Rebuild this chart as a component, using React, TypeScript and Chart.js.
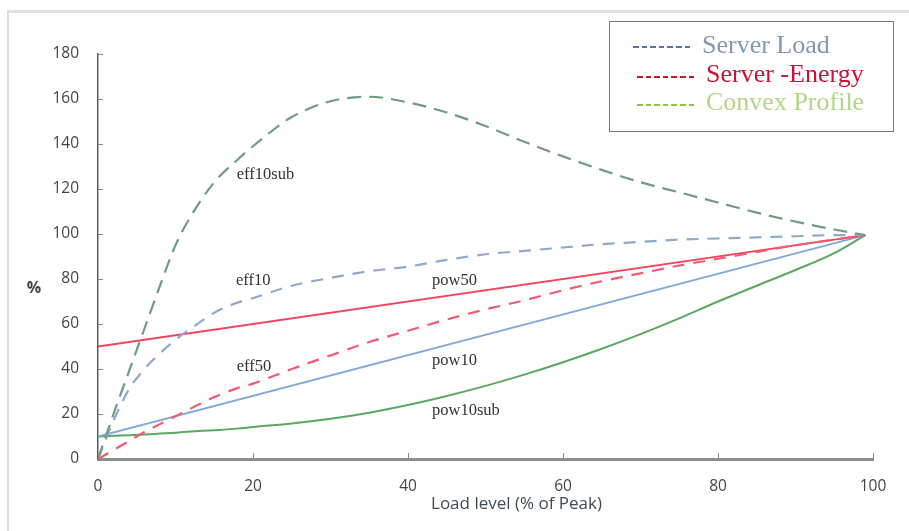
import { useEffect, useRef } from "react";
import { Chart, registerables } from "chart.js";

Chart.register(...registerables);

// ---- data ----
const loadLevels = [0, 2, 4, 6, 8, 10, 12, 15, 18, 20, 25, 30, 35, 40, 45, 50, 55, 60, 65, 70, 75, 80, 85, 90, 95, 99];
const eff10sub = [0, 20, 39, 58, 77, 95, 108, 123, 133, 139, 152, 159, 161, 158.5, 154, 148, 141, 134.5, 128.5, 123, 118.5, 114, 109.5, 105.5, 102, 99.5];
const eff10 = [0, 17, 31, 40, 47, 53, 58, 65, 69.5, 71.5, 77, 80.5, 83.5, 85.5, 88.5, 91, 92.5, 94, 95.5, 96.5, 97.5, 98, 98.5, 99, 99.5, 99.5];
const eff50 = [0, 4, 8, 12, 15.5, 19, 22.5, 27.5, 31.5, 33.5, 40, 46, 52, 57, 62, 66.5, 70.5, 75, 79, 82.5, 86, 89, 92, 95, 97.5, 99.5];
const pow10sub = [10, 10.3, 10.6, 10.9, 11.3, 11.7, 12.2, 12.8, 13.5, 14.2, 15.8, 17.9, 20.6, 24, 28, 32.5, 37.5, 43, 49, 55.5, 62.5, 70, 77, 84, 91.5, 99.5];
const pow10Load = [0, 99];
const pow10 = [10, 99.5];
const pow50Load = [0, 99];
const pow50 = [50, 99.5];

const xTicks = [0, 20, 40, 60, 80, 100];
const yTicks = [0, 20, 40, 60, 80, 100, 120, 140, 160, 180];

const curveLabels = ["eff10sub", "eff10", "pow50", "eff50", "pow10", "pow10sub"];
// label anchor (load level, %) — placement only
const curveLabelAt: [number, number][] = [
  [17.9, 126.3],
  [17.8, 79.3],
  [43.1, 79.3],
  [17.9, 41.2],
  [43.1, 43.9],
  [43.1, 21.7],
];

const legendNames = ["Server Load", "Server -Energy", "Convex Profile"];
const legendTextColors = ["#8397b5", "#cc1035", "#b3d585"];
const legendDashColors = ["#56749f", "#cc1133", "#8cc63f"];

const xTitle = "Load level (% of Peak)";
const yTitle = "%";

const pts = (xs: number[], ys: number[]) => xs.map((x, i) => ({ x, y: ys[i] }));

export default function App() {
  const canvasRef = useRef<HTMLCanvasElement | null>(null);

  useEffect(() => {
    document.body.style.margin = "0";
    const canvas = canvasRef.current;
    if (!canvas) return;

    const overlay = {
      id: "overlay",
      afterDatasetsDraw(chart: any) {
        const { ctx } = chart;
        const x = chart.scales.x;
        const y = chart.scales.y;
        ctx.save();
        ctx.strokeStyle = "#8a8a8a";
        ctx.lineWidth = 1;
        yTicks.forEach((v) => {
          if (v === 0) return;
          const py = Math.round(y.getPixelForValue(v)) + 0.5;
          ctx.beginPath();
          ctx.moveTo(x.left, py);
          ctx.lineTo(x.left + 5, py);
          ctx.stroke();
        });
        xTicks.forEach((v) => {
          if (v === 0) return;
          const px = Math.round(x.getPixelForValue(v)) + 0.5;
          ctx.beginPath();
          ctx.moveTo(px, y.bottom);
          ctx.lineTo(px, y.bottom - 6);
          ctx.stroke();
        });
        ctx.font = '16.5px "Liberation Serif", serif';
        ctx.fillStyle = "#333333";
        ctx.textAlign = "left";
        ctx.textBaseline = "middle";
        curveLabels.forEach((t, i) => {
          const [lx, ly] = curveLabelAt[i];
          ctx.fillText(t, x.getPixelForValue(lx), y.getPixelForValue(ly));
        });
        ctx.font = 'bold 16px "Open Sans", sans-serif';
        ctx.fillStyle = "#444444";
        ctx.textAlign = "center";
        ctx.fillText(yTitle, x.left - 64, y.getPixelForValue(76));
        ctx.font = '17px "Open Sans", sans-serif';
        ctx.fillStyle = "#3f4a55";
        ctx.fillText(xTitle, x.getPixelForValue(54), y.bottom + 45);
        ctx.restore();
      },
    };

    const tickFont = { family: '"Open Sans", sans-serif', size: 15.5 };

    const chart = new Chart(canvas, {
      type: "line",
      data: {
        datasets: [
          {
            label: "eff10sub",
            data: pts(loadLevels, eff10sub),
            borderColor: "#6f9c82",
            borderWidth: 2.2,
            borderDash: [14, 8],
            pointRadius: 0,
            cubicInterpolationMode: "monotone",
          },
          {
            label: "eff10",
            data: pts(loadLevels, eff10),
            borderColor: "#8fa9cb",
            borderWidth: 2.2,
            borderDash: [12, 9],
            pointRadius: 0,
            cubicInterpolationMode: "monotone",
          },
          {
            label: "eff50",
            data: pts(loadLevels, eff50),
            borderColor: "#f25a72",
            borderWidth: 2.2,
            borderDash: [12, 9],
            pointRadius: 0,
            cubicInterpolationMode: "monotone",
          },
          {
            label: "pow50",
            data: pts(pow50Load, pow50),
            borderColor: "#f0445e",
            borderWidth: 2,
            pointRadius: 0,
          },
          {
            label: "pow10",
            data: pts(pow10Load, pow10),
            borderColor: "#82a9d8",
            borderWidth: 2,
            pointRadius: 0,
          },
          {
            label: "pow10sub",
            data: pts(loadLevels, pow10sub),
            borderColor: "#5aa862",
            borderWidth: 2,
            pointRadius: 0,
            cubicInterpolationMode: "monotone",
          },
        ],
      },
      options: {
        animation: false,
        responsive: false,
        devicePixelRatio: 1,
        layout: { padding: { left: 0, top: 54, right: 36, bottom: 0 } },
        plugins: {
          legend: { display: false },
          tooltip: { enabled: false },
        },
        scales: {
          x: {
            type: "linear",
            min: 0,
            max: 100,
            afterBuildTicks: (s: any) => {
              s.ticks = xTicks.map((v) => ({ value: v }));
            },
            afterFit: (s: any) => {
              s.height = 72;
            },
            grid: { display: false },
            border: { display: true, color: "#8c8c8c", width: 3 },
            ticks: {
              color: "#454545",
              padding: 10,
              maxRotation: 0,
              font: tickFont,
            },
            title: { display: false },
          },
          y: {
            type: "linear",
            min: 0,
            max: 180,
            afterBuildTicks: (s: any) => {
              s.ticks = yTicks.map((v) => ({ value: v }));
            },
            afterFit: (s: any) => {
              s.width = 98;
            },
            grid: { display: false },
            border: { display: true, color: "#5a5a5a", width: 1.5 },
            ticks: {
              color: "#454545",
              padding: 11,
              font: tickFont,
            },
          },
        },
      },
      plugins: [overlay],
    });

    return () => chart.destroy();
  }, []);

  const rowTops = [31.5, 60.5, 89];
  const dashLeft = [633, 637, 637];
  const dashTop = [46, 76, 104];
  const textLeft = [702, 706, 706];

  return (
    <div style={{ position: "relative", width: 909, height: 531, overflow: "hidden", background: "#ffffff" }}>
      <div
        style={{
          position: "absolute",
          left: 7,
          top: 10,
          right: 0,
          bottom: 0,
          borderLeft: "2px solid #dcdcdc",
          borderTop: "3px solid #e2e2e2",
        }}
      />
      <canvas ref={canvasRef} width={909} height={531} style={{ position: "absolute", left: 0, top: 0 }} />
      <div
        style={{
          position: "absolute",
          left: 609,
          top: 21,
          width: 283,
          height: 109,
          border: "1px solid #777777",
          background: "transparent",
        }}
      />
      {legendNames.map((name, i) => (
        <div key={name}>
          <div
            style={{
              position: "absolute",
              left: dashLeft[i],
              top: dashTop[i],
              width: 60,
              height: 2,
              background: `repeating-linear-gradient(to right, ${legendDashColors[i]} 0px, ${legendDashColors[i]} 5.6px, transparent 5.6px, transparent 8.6px)`,
            }}
          />
          <div
            style={{
              position: "absolute",
              left: textLeft[i],
              top: rowTops[i],
              fontFamily: '"Liberation Serif", serif',
              fontSize: 26,
              lineHeight: "26px",
              color: legendTextColors[i],
              whiteSpace: "nowrap",
            }}
          >
            {name}
          </div>
        </div>
      ))}
    </div>
  );
}
